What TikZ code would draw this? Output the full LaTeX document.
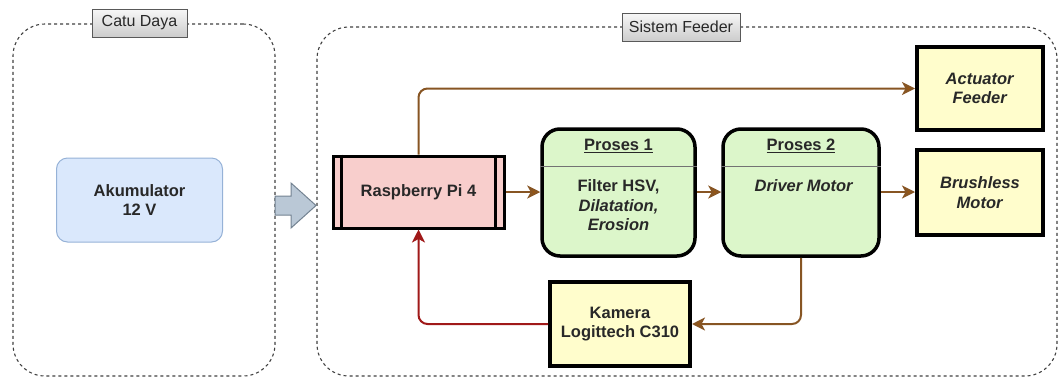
\documentclass[tikz,border=0pt]{standalone}
\usepackage{fontspec}
\setmainfont{Liberation Sans}
\usetikzlibrary{arrows.meta}
\definecolor{brn}{RGB}{135,85,35}
\definecolor{brnhead}{RGB}{155,85,15}
\definecolor{redc}{RGB}{160,25,25}
\definecolor{bluefill}{RGB}{218,232,252}
\definecolor{blueline}{RGB}{150,178,215}
\definecolor{pinkfill}{RGB}{248,206,204}
\definecolor{greenfill}{RGB}{220,246,202}
\definecolor{yellowfill}{RGB}{255,253,204}
\definecolor{arrowfill}{RGB}{186,200,214}
\definecolor{arrowline}{RGB}{115,130,145}
\definecolor{txt}{RGB}{40,40,40}
\begin{document}
\begin{tikzpicture}[x=1pt,y=-1pt,
  every node/.style={font=\fontsize{16.5}{19.5}\selectfont\bfseries, text=txt, align=center, inner sep=0pt},
  container/.style={draw=black!75, line width=1.1pt, dash pattern=on 3pt off 3pt, rounded corners=32pt, fill=none},
  grouplabel/.style={draw=gray!70!black, line width=0.8pt, top color=gray!6, bottom color=gray!40, font=\fontsize{16}{18}\selectfont\mdseries},
  akubox/.style={draw=blueline, line width=1pt, fill=bluefill, rounded corners=11pt},
  rpibox/.style={draw=black, line width=3pt, fill=pinkfill},
  procbox/.style={draw=black, line width=3.5pt, fill=greenfill, rounded corners=18pt},
  devbox/.style={draw=black, line width=4pt, fill=yellowfill},
  conn/.style={draw=brn, line width=2pt, rounded corners=9pt, -{Stealth[length=13pt,width=13pt,inset=3.5pt,fill=brnhead]}},
  redconn/.style={draw=redc, line width=2pt, rounded corners=9pt, -{Stealth[length=13pt,width=13pt,inset=3.5pt]}},
  divider/.style={draw=black!55, line width=0.8pt}
]
\useasboundingbox (0,0) rectangle (1059,378);

% containers
\node[container, minimum width=262pt, minimum height=352pt] (cd) at (144,200) {};
\node[container, minimum width=740pt, minimum height=349pt] (sf) at (687,201.5) {};
\node[grouplabel, minimum width=95pt, minimum height=28pt] (cdl) at (139.5,23) {Catu Daya};
\node[grouplabel, minimum width=118pt, minimum height=28pt] (sfl) at (681,27) {Sistem Feeder};

% power
\node[akubox, minimum width=166pt, minimum height=84pt] (aku) at (139.5,200) {Akumulator\\12 V};
\draw[fill=arrowfill, draw=arrowline, line width=1pt, line join=miter]
  (275,196) -- (291,196) -- (291,183) -- (316,205.5) -- (291,228) -- (291,215) -- (275,215) -- cycle;

% raspberry pi
\node[rpibox, minimum width=171pt, minimum height=72pt] (rpi) at (418.5,192) {Raspberry Pi 4};
\draw[line width=3pt] ([xshift=10pt]rpi.north west) -- ([xshift=10pt]rpi.south west);
\draw[line width=3pt] ([xshift=-10pt]rpi.north east) -- ([xshift=-10pt]rpi.south east);

% process 1
\node[procbox, minimum width=153pt, minimum height=127pt] (p1) at (618.5,192.5) {};
\draw[divider] (p1.west |- 0,166) -- (p1.east |- 0,166);
\node (p1t) at (618.5,146) {\underline{Proses 1}};
\node (p1b) at (618.5,205.5) {Filter HSV,\\\textit{Dilatation,}\\\textit{Erosion}};

% process 2
\node[procbox, minimum width=156pt, minimum height=127pt] (p2) at (801,192.5) {};
\draw[divider] (p2.west |- 0,166) -- (p2.east |- 0,166);
\node (p2t) at (801,146) {\underline{Proses 2}};
\node (p2b) at (804,186) {\textit{Driver Motor}};

% devices
\node[devbox, minimum width=126pt, minimum height=83pt] (act) at (980,88.5) {\textit{Actuator}\\\textit{Feeder}};
\node[devbox, minimum width=126pt, minimum height=85pt] (bl) at (980,192.5) {\textit{Brushless}\\\textit{Motor}};
\node[devbox, minimum width=140pt, minimum height=84pt] (cam) at (620,324) {Kamera\\Logittech C310};

% connectors
\draw[conn] (rpi.north) |- (act.west);
\draw[conn] (rpi.east) -- (p1.west |- rpi.east);
\draw[conn] (p1.east |- rpi.east) -- (p2.west |- rpi.east);
\draw[conn] (p2.east |- rpi.east) -- (bl.west |- rpi.east);
\draw[conn] (p2.south) |- (cam.east);
\draw[redconn] (cam.west) -| (rpi.south);
\end{tikzpicture}
\end{document}
